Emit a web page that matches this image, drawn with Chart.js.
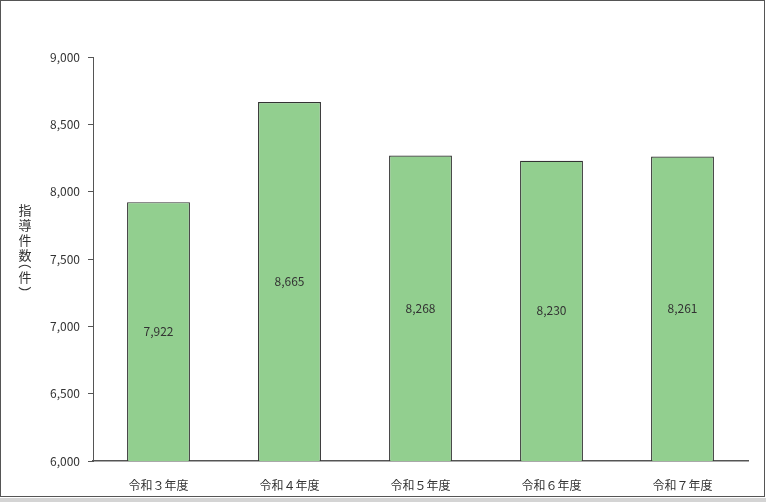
<!DOCTYPE html>
<html lang="ja">
<head>
<meta charset="utf-8">
<script src="https://cdn.jsdelivr.net/npm/chart.js@4/dist/chart.umd.min.js"></script>
<style>
  html, body { margin: 0; padding: 0; background: #d4d4d4; }
  #wrap { position: relative; width: 766px; height: 498px; background: #fff; }
  #frame { position: absolute; left: 0; top: 0; width: 763px; height: 495px;
           border: 1.5px solid #555; pointer-events: none; }
  canvas { position: absolute; left: 0; top: 0; }
</style>
</head>
<body>
<div id="wrap">
  <canvas id="guidanceChart" width="766" height="498"></canvas>
  <div id="frame"></div>
</div>
<script>
// Fiscal years and number of guidance cases
const years = ['令和３年度', '令和４年度', '令和５年度', '令和６年度', '令和７年度'];
const cases = [7922, 8665, 8268, 8230, 8261];
const yTicks = [6000, 6500, 7000, 7500, 8000, 8500, 9000];
const yTitle = ['指', '導', '件', '数', '（', '件', '）'];

const fontFamily = '"Noto Sans CJK JP", "Noto Sans", sans-serif';

// value labels in the middle of each bar
const barLabels = {
    id: 'barLabels',
    afterDraw(chart) {
        const ctx = chart.ctx;
        const xs = chart.scales.x;
        const ys = chart.scales.y;
        ctx.save();
        ctx.font = '12px ' + fontFamily;
        ctx.fillStyle = '#333';
        ctx.textAlign = 'center';
        ctx.textBaseline = 'middle';
        cases.forEach((v, i) => {
            const x = xs.getPixelForValue(i);
            const top = ys.getPixelForValue(v);
            ctx.fillText(v.toLocaleString('en-US'), x, (top + ys.bottom) / 2);
        });
        ctx.restore();
    }
};

// vertical (tategaki) axis title
const verticalTitle = {
    id: 'verticalTitle',
    afterDraw(chart) {
        const ctx = chart.ctx;
        const size = 13;
        ctx.save();
        ctx.font = size + 'px ' + fontFamily;
        ctx.fillStyle = '#333';
        ctx.textAlign = 'center';
        ctx.textBaseline = 'middle';
        let y = 210;
        yTitle.forEach(ch => {
            if (ch === '（' || ch === '）') {
                // rotate brackets for vertical writing; the glyph ink sits off-centre in its box
                const open = ch === '（';
                ctx.save();
                ctx.translate(25, open ? y - 5 : y - 2);
                ctx.rotate(Math.PI / 2);
                ctx.fillText(ch, open ? -0.22 * size : 0.22 * size, 0);
                ctx.restore();
                y += 7;
            } else {
                ctx.fillText(ch, 25, y);
                y += 15;
            }
        });
        ctx.restore();
    }
};

new Chart(document.getElementById('guidanceChart').getContext('2d'), {
    type: 'bar',
    data: {
        labels: years,
        datasets: [{
            data: cases,
            backgroundColor: '#92cf8f',
            borderColor: '#333',
            borderWidth: 1.2,
            borderSkipped: false,
            barPercentage: 0.48,
            categoryPercentage: 1
        }]
    },
    options: {
        responsive: false,
        animation: false,
        devicePixelRatio: 1,
        layout: { padding: { top: 57, right: 18, left: 0, bottom: 0 } },
        plugins: {
            legend: { display: false },
            tooltip: { enabled: false }
        },
        scales: {
            x: {
                grid: { display: false },
                border: { display: true, color: '#555', width: 1.5 },
                ticks: {
                    color: '#333',
                    padding: 9,
                    font: { family: fontFamily, size: 12 }
                },
                afterFit(scale) { scale.height = 37; }
            },
            y: {
                min: 6000,
                max: 9000,
                afterBuildTicks(scale) {
                    scale.ticks = yTicks.map(v => ({ value: v }));
                },
                grid: {
                    drawOnChartArea: false,
                    drawTicks: true,
                    tickLength: 5,
                    color: '#555'
                },
                border: { display: true, color: '#555', width: 1 },
                ticks: {
                    color: '#333',
                    padding: 8,
                    font: { family: fontFamily, size: 12 },
                    callback: v => v.toLocaleString('en-US')
                },
                afterFit(scale) { scale.width = 93; }
            }
        }
    },
    plugins: [barLabels, verticalTitle]
});
</script>
</body>
</html>
